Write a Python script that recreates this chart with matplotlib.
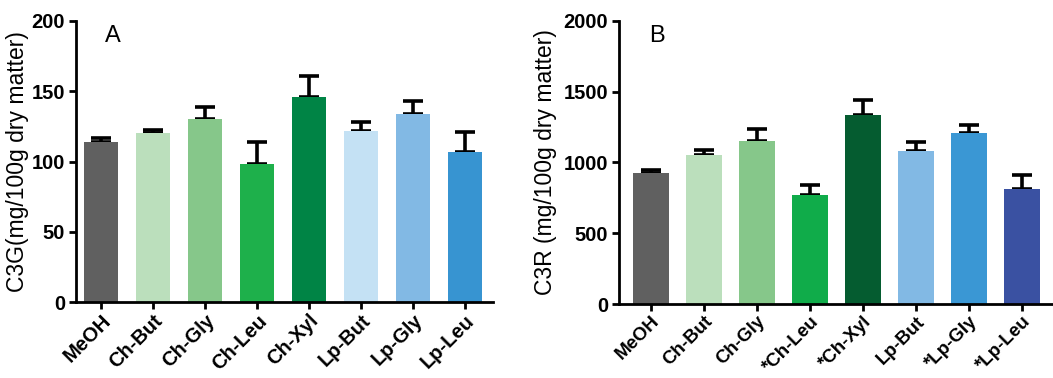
import matplotlib
matplotlib.use("Agg")
import matplotlib.pyplot as plt
import numpy as np

plt.rcParams['font.family'] = ['Liberation Sans', 'DejaVu Sans']

categories_a = ["MeOH", "Ch-But", "Ch-Gly", "Ch-Leu", "Ch-Xyl", "Lp-But", "Lp-Gly", "Lp-Leu"]
c3g_values = [114, 120, 130, 98, 146, 122, 134, 107]
c3g_errors = [3, 2.5, 9, 16, 15, 6, 9, 14]
colors_a = ["#606060", "#bbdfbc", "#86c78a", "#1eb04b", "#008445", "#c4e1f4", "#82b9e4", "#3794d1"]

categories_b = ["MeOH", "Ch-But", "Ch-Gly", "*Ch-Leu", "*Ch-Xyl", "Lp-But", "*Lp-Gly", "*Lp-Leu"]
c3r_values = [926, 1055, 1150, 772, 1336, 1083, 1208, 815]
c3r_errors = [23, 30, 88, 69, 108, 59, 57, 99]
colors_b = ["#606060", "#bbdfbc", "#86c78a", "#10ac4a", "#055c30", "#82b9e4", "#3a97d4", "#3a51a2"]

fig = plt.figure(figsize=(10.53, 3.78), dpi=100)
ax_a = fig.add_axes([76/1053, 1-302/378, (493-76)/1053, (302-21)/378])
ax_b = fig.add_axes([619/1053, 1-304/378, (1053-619)/1053, (304-21)/378])

def draw(ax, cats, vals, errs, cols, ymax, yticks, ylabel, letter, xlim, labx, xfs):
    x = np.arange(len(cats))
    ax.bar(x, vals, width=0.67, color=cols, zorder=2)
    ax.errorbar(x, vals, yerr=[np.zeros(len(vals)), errs], fmt='none', ecolor='black',
                elinewidth=2.6, capsize=7.5, capthick=2.6, zorder=1)
    ax.set_ylim(0, ymax)
    ax.set_xlim(*xlim)
    ax.set_yticks(yticks)
    ax.set_yticklabels([str(t) for t in yticks], fontsize=14.5, fontweight='bold')
    ax.set_xticks(x)
    ax.set_xticklabels(cats, rotation=45, ha='right', rotation_mode='anchor',
                       fontsize=xfs, fontweight='bold')
    ax.tick_params(axis='y', width=2, length=5, pad=3, color='black')
    ax.tick_params(axis='x', width=2, length=5, pad=1.5, color='black')
    for s in ['top', 'right']:
        ax.spines[s].set_visible(False)
    for s in ['left', 'bottom']:
        ax.spines[s].set_linewidth(2)
    ax.set_ylabel(ylabel, fontsize=16.5)
    ax.yaxis.set_label_coords(labx, 0.5)
    ax.text(0.07, 0.985, letter, transform=ax.transAxes, fontsize=17, va='top', ha='left')

draw(ax_a, categories_a, c3g_values, c3g_errors, colors_a, 200, [0, 50, 100, 150, 200],
     "C3G(mg/100g dry matter)", "A", (-0.48, 7.54), -0.112, 14.5)
draw(ax_b, categories_b, c3r_values, c3r_errors, colors_b, 2000, [0, 500, 1000, 1500, 2000],
     "C3R (mg/100g dry matter)", "B", (-0.6, 7.58), -0.143, 13.5)

fig.savefig("out.png", dpi=100)
